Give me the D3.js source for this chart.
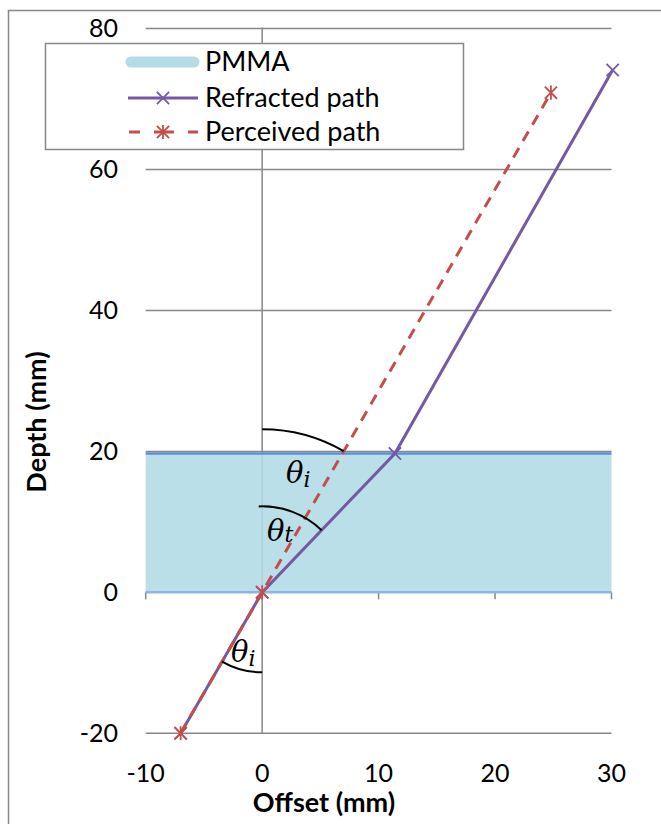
<!DOCTYPE html>
<html>
<head>
<meta charset="utf-8">
<script src="https://cdn.jsdelivr.net/npm/d3@7"></script>
<style>
  body { margin: 0; background: #fff; }
  svg { display: block; }
</style>
</head>
<body>
<svg width="661" height="824"></svg>
<script>
// chart values
const xTicks = [-10, 0, 10, 20, 30];
const yTicks = [-20, 0, 20, 40, 60, 80];
const refractedX = [-7, 0, 11.4, 30.1];
const refractedY = [-20, 0, 19.7, 74.1];
const perceivedX = [-7, 0, 24.8];
const perceivedY = [-20, 0, 70.9];
const pmmaX = [-10, 30];
const pmmaY = [0, 19.7];
const seriesNames = ["PMMA", "Refracted path", "Perceived path"];

const svg = d3.select("svg");
const font = "Lato, 'Liberation Sans', sans-serif";
const purple = "#7459a3";
const red = "#c44e4b";
const grid = "#878787";

const xScale = d3.scaleLinear().domain([-10, 30]).range([145.7, 611.5]);
const yScale = d3.scaleLinear().domain([-20, 80]).range([733.3, 28.5]);

// outer chart border
svg.append("rect")
    .attr("x", 8.5).attr("y", 10.5)
    .attr("width", 700).attr("height", 900)
    .attr("fill", "none")
    .attr("stroke", grid)
    .attr("stroke-width", 1.5);

// horizontal gridlines
svg.selectAll("line.grid").data(yTicks)
    .enter().append("line")
    .attr("class", "grid")
    .attr("x1", xScale(-10)).attr("x2", xScale(30))
    .attr("y1", d => yScale(d)).attr("y2", d => yScale(d))
    .attr("stroke", grid)
    .attr("stroke-width", 1.5);

// x tick marks on the zero line
svg.selectAll("line.xtick").data(xTicks)
    .enter().append("line")
    .attr("x1", d => xScale(d)).attr("x2", d => xScale(d))
    .attr("y1", yScale(0)).attr("y2", yScale(0) + 7)
    .attr("stroke", grid)
    .attr("stroke-width", 1.5);

// vertical axis at x = 0
svg.append("line")
    .attr("x1", xScale(0)).attr("x2", xScale(0))
    .attr("y1", yScale(80) - 1).attr("y2", yScale(-20))
    .attr("stroke", grid)
    .attr("stroke-width", 1.5);

// PMMA slab
svg.append("rect")
    .attr("x", xScale(pmmaX[0]))
    .attr("y", yScale(pmmaY[1]))
    .attr("width", xScale(pmmaX[1]) - xScale(pmmaX[0]))
    .attr("height", yScale(pmmaY[0]) - yScale(pmmaY[1]))
    .attr("fill", "#b4dbe6")
    .attr("fill-opacity", 0.9);

svg.selectAll("line.pmma").data(pmmaY)
    .enter().append("line")
    .attr("x1", xScale(pmmaX[0])).attr("x2", xScale(pmmaX[1]))
    .attr("y1", d => yScale(d)).attr("y2", d => yScale(d))
    .attr("stroke", d => d == 0 ? "#8fb4e3" : "#5b8fd6")
    .attr("stroke-width", 2.5);

// marker shapes
const xMark = {
    draw(ctx, size) {
        const r = Math.sqrt(size) / 2;
        ctx.moveTo(-r, -r); ctx.lineTo(r, r);
        ctx.moveTo(-r, r); ctx.lineTo(r, -r);
    }
};
const starMark = {
    draw(ctx, size) {
        const r = Math.sqrt(size) / 2;
        ctx.moveTo(-r, -r); ctx.lineTo(r, r);
        ctx.moveTo(-r, r); ctx.lineTo(r, -r);
        ctx.moveTo(0, -r * 1.15); ctx.lineTo(0, r * 1.15);
    }
};

const line = d3.line().x(d => xScale(d[0])).y(d => yScale(d[1]));
const refracted = refractedX.map((x, i) => [x, refractedY[i]]);
const perceived = perceivedX.map((x, i) => [x, perceivedY[i]]);

svg.append("path")
    .datum(refracted)
    .attr("d", line)
    .attr("fill", "none")
    .attr("stroke", purple)
    .attr("stroke-width", 3);

svg.append("path")
    .datum(perceived)
    .attr("d", line)
    .attr("fill", "none")
    .attr("stroke", red)
    .attr("stroke-width", 3)
    .attr("stroke-dasharray", "11,8");

svg.selectAll("path.mref").data(refracted)
    .enter().append("path")
    .attr("transform", d => `translate(${xScale(d[0])},${yScale(d[1])})`)
    .attr("d", d3.symbol().type(xMark).size(150))
    .attr("fill", "none")
    .attr("stroke", purple)
    .attr("stroke-width", 1.8);

svg.selectAll("path.mper").data(perceived)
    .enter().append("path")
    .attr("transform", d => `translate(${xScale(d[0])},${yScale(d[1])})`)
    .attr("d", d3.symbol().type(starMark).size(150))
    .attr("fill", "none")
    .attr("stroke", red)
    .attr("stroke-width", 1.8);

// angle arcs around the origin
const ox = xScale(0), oy = yScale(0);
const angPer = Math.atan2(xScale(perceived[2][0]) - ox, oy - yScale(perceived[2][1]));
const angRef = Math.atan2(xScale(refracted[2][0]) - ox, oy - yScale(refracted[2][1]));
const angLow = Math.atan2(xScale(perceived[0][0]) - ox, oy - yScale(perceived[0][1]));

function arcPath(r, a0, a1) {
    const p = d3.path();
    p.arc(ox, oy, r, a0 - Math.PI / 2, a1 - Math.PI / 2, a1 < a0);
    return p.toString();
}
const arcs = [
    [163, 0, angPer],
    [86, -0.04, angRef],
    [80, Math.PI, angLow + 2 * Math.PI]
];
svg.selectAll("path.arc").data(arcs)
    .enter().append("path")
    .attr("d", d => arcPath(d[0], d[1], d[2]))
    .attr("fill", "none")
    .attr("stroke", "#000")
    .attr("stroke-width", 2);

// angle labels
const angleLabels = [
    {x: 286, y: 483, sub: "i", dy: 4},
    {x: 267, y: 541, sub: "t", dy: 1},
    {x: 231, y: 662, sub: "i", dy: 4}
];
angleLabels.forEach(l => {
    const t = svg.append("text")
        .attr("x", l.x).attr("y", l.y)
        .attr("font-family", "'DejaVu Serif', serif")
        .attr("font-style", "italic")
        .attr("font-size", 29)
        .attr("fill", "#000");
    t.append("tspan").text("θ");
    t.append("tspan").attr("font-size", 22).attr("dy", l.dy).text(l.sub);
});

// tick labels
svg.selectAll("text.ylab").data(yTicks)
    .enter().append("text")
    .attr("x", 118)
    .attr("y", d => yScale(d))
    .attr("dy", "0.35em")
    .attr("text-anchor", "end")
    .attr("font-family", font)
    .attr("font-size", 25)
    .text(d => d);

svg.selectAll("text.xlab").data(xTicks)
    .enter().append("text")
    .attr("x", d => xScale(d))
    .attr("y", 773)
    .attr("dy", "0.35em")
    .attr("text-anchor", "middle")
    .attr("font-family", font)
    .attr("font-size", 25)
    .text(d => d);

// axis titles
svg.append("text")
    .attr("x", 324).attr("y", 812)
    .attr("text-anchor", "middle")
    .attr("font-family", font)
    .attr("font-weight", "bold")
    .attr("font-size", 27)
    .text("Offset (mm)");

svg.append("text")
    .attr("transform", "translate(46,422) rotate(-90)")
    .attr("text-anchor", "middle")
    .attr("font-family", font)
    .attr("font-weight", "bold")
    .attr("font-size", 27)
    .text("Depth (mm)");

// legend
const legend = svg.append("g");
legend.append("rect")
    .attr("x", 45.5).attr("y", 43.5)
    .attr("width", 418).attr("height", 106)
    .attr("fill", "#fff")
    .attr("stroke", grid)
    .attr("stroke-width", 1.5);

const rowY = [62, 98, 132];
legend.append("line")
    .attr("x1", 131).attr("x2", 194)
    .attr("y1", rowY[0]).attr("y2", rowY[0])
    .attr("stroke", "#b4dbe6")
    .attr("stroke-width", 11)
    .attr("stroke-linecap", "round");

legend.append("line")
    .attr("x1", 128).attr("x2", 198)
    .attr("y1", rowY[1]).attr("y2", rowY[1])
    .attr("stroke", purple)
    .attr("stroke-width", 3);
legend.append("path")
    .attr("transform", `translate(163,${rowY[1]})`)
    .attr("d", d3.symbol().type(xMark).size(150))
    .attr("fill", "none")
    .attr("stroke", purple)
    .attr("stroke-width", 1.8);

legend.append("line")
    .attr("x1", 129).attr("x2", 198)
    .attr("y1", rowY[2]).attr("y2", rowY[2])
    .attr("stroke", red)
    .attr("stroke-width", 3)
    .attr("stroke-dasharray", "11,14,20,14,11");
legend.append("path")
    .attr("transform", `translate(163,${rowY[2]})`)
    .attr("d", d3.symbol().type(starMark).size(150))
    .attr("fill", "none")
    .attr("stroke", red)
    .attr("stroke-width", 1.8);

legend.selectAll("text").data(seriesNames)
    .enter().append("text")
    .attr("x", 205)
    .attr("y", (d, i) => rowY[i])
    .attr("dy", "0.35em")
    .attr("font-family", font)
    .attr("font-size", 27)
    .text(d => d);
</script>
</body>
</html>
